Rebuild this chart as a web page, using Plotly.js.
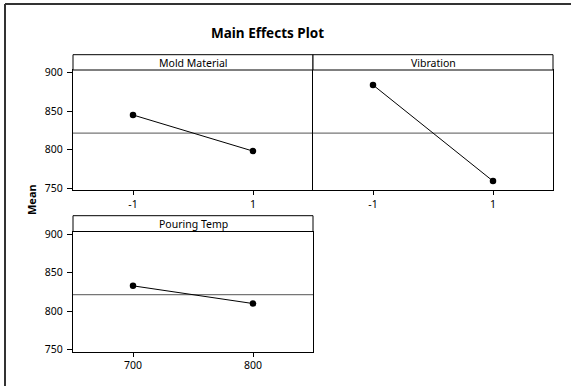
<!DOCTYPE html>
<html>
<head>
<meta charset="utf-8">
<script src="https://cdn.plot.ly/plotly-3.0.1.min.js"></script>
<style>html,body{margin:0;padding:0;background:#fff;}#chart{width:571px;height:386px;}</style>
</head>
<body>
<div id="chart"></div>
<script>
// ---- data ----
var panelTitles = ["Mold Material", "Vibration", "Pouring Temp"];
var moldLevels = [-1, 1];
var moldMeans = [845, 798];
var vibLevels = [-1, 1];
var vibMeans = [884, 759];
var pourLevels = [700, 800];
var pourMeans = [833, 810];
var yTicks = [750, 800, 850, 900];

// grand mean from the data
var allMeans = moldMeans.concat(vibMeans, pourMeans);
var grandMean = allMeans.reduce(function(a,b){return a+b;},0) / allMeans.length;

var W = 571, H = 386;
function px(x){ return x / W; }
function py(y){ return 1 - y / H; }

var FONT = "Noto Sans, DejaVu Sans, sans-serif";

function trace(x, y, xa, ya){
  return {x: x, y: y, xaxis: xa, yaxis: ya, type: "scatter", mode: "lines+markers",
    line: {color: "#000", width: 1}, marker: {color: "#000", size: 6.5}, hoverinfo: "x+y", showlegend: false};
}

var data = [
  trace(moldLevels, moldMeans, "x", "y"),
  trace(vibLevels, vibMeans, "x2", "y2"),
  trace(pourLevels, pourMeans, "x3", "y3")
];

// panel geometry (pixels)
var p1 = {l: 73, r: 313, t: 70, b: 190, st: 54.7};
var p2 = {l: 313, r: 553, t: 70, b: 190, st: 54.7};
var p3 = {l: 73, r: 313, t: 231.5, b: 351.8, st: 215.7};
var yRange = [747.4, 903.5];

function xax(p, ticks, range, anchor){
  return {domain: [px(p.l), px(p.r)], range: range, anchor: anchor, tickvals: ticks, ticktext: ticks.map(String),
    showline: true, mirror: true, linecolor: "#000", linewidth: 1, showgrid: false, zeroline: false,
    ticks: "outside", ticklen: 4, tickwidth: 1, tickcolor: "#000",
    tickfont: {family: FONT, size: 10.5, color: "#000"}, fixedrange: true};
}
function yax(p, anchor, labels, mirror){
  return {domain: [py(p.b), py(p.t)], range: yRange, anchor: anchor, tickvals: yTicks,
    showticklabels: labels, ticks: labels ? "outside" : "", ticklen: 5, tickwidth: 1, tickcolor: "#000",
    ticklabelstandoff: 2,
    showline: true, mirror: mirror, linecolor: "#000", linewidth: 1, showgrid: false, zeroline: false,
    tickfont: {family: FONT, size: 10.5, color: "#000"}, fixedrange: true};
}

var shapes = [];
var annotations = [];
[[p1, "x", 0], [p2, "x2", 1], [p3, "x3", 2]].forEach(function(d){
  var p = d[0];
  // grand mean reference line
  shapes.push({type: "line", xref: d[1] + " domain", yref: (d[1] === "x" ? "y" : "y" + d[1].slice(1)),
    x0: 0, x1: 1, y0: grandMean, y1: grandMean, line: {color: "#767676", width: 1.2}, layer: "below"});
  shapes.push({type: "rect", xref: "paper", yref: "paper", x0: px(p.l), x1: px(p.r), y0: py(p.t), y1: py(p.st),
    line: {color: "#000", width: 1}, fillcolor: "#fff"});
  annotations.push({xref: "paper", yref: "paper", x: px((p.l + p.r) / 2), y: py((p.t + p.st) / 2 + 0.3),
    text: panelTitles[d[2]], showarrow: false, xanchor: "center", yanchor: "middle",
    font: {family: FONT, size: 10.5, color: "#000"}});
});
// outer frame (top + left visible)
shapes.push({type: "line", xref: "paper", yref: "paper", x0: px(5), x1: 1, y0: py(4), y1: py(4), line: {color: "#333", width: 2}});
shapes.push({type: "line", xref: "paper", yref: "paper", x0: px(5), x1: px(5), y0: py(4), y1: 0, line: {color: "#333", width: 2}});

annotations.push({xref: "paper", yref: "paper", x: px(32), y: py(200), text: "<b>Mean</b>", textangle: -90,
  showarrow: false, xanchor: "center", yanchor: "middle", font: {family: FONT, size: 11, color: "#000"}});

var layout = {
  width: W, height: H, margin: {l: 0, r: 0, t: 0, b: 0},
  paper_bgcolor: "#fff", plot_bgcolor: "#fff",
  title: {text: "<b>Main Effects Plot</b>", x: px(267.5), y: py(33), xanchor: "center", yanchor: "middle",
    font: {family: FONT, size: 13.5, color: "#000"}},
  xaxis: xax(p1, moldLevels, [-2, 2], "y"),
  yaxis: yax(p1, "x", true, false),
  xaxis2: xax(p2, vibLevels, [-2, 2], "y2"),
  yaxis2: yax(p2, "x2", false, true),
  xaxis3: xax(p3, pourLevels, [650, 850], "y3"),
  yaxis3: yax(p3, "x3", true, true),
  shapes: shapes,
  annotations: annotations,
  showlegend: false
};

Plotly.newPlot("chart", data, layout, {displayModeBar: false, staticPlot: true});
</script>
</body>
</html>
